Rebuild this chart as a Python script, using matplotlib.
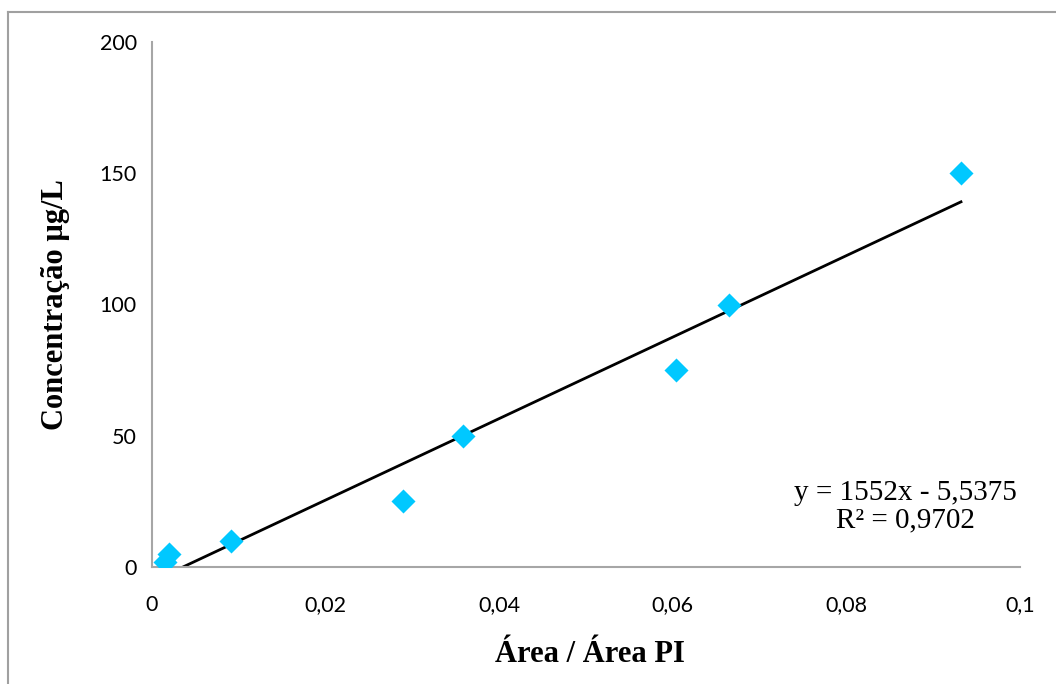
import numpy as np
import matplotlib
matplotlib.use("Agg")
import matplotlib.pyplot as plt
from matplotlib.lines import Line2D

# dados da curva de calibração
area_ratio = [0.0015, 0.0020, 0.0091, 0.0289, 0.0358, 0.0604, 0.0665, 0.0932]
concentracao = [2, 5, 10, 25, 50, 75, 100, 150]
slope = 1552
intercept = -5.5375
r2 = 0.9702

x_ticks = [0, 0.02, 0.04, 0.06, 0.08, 0.1]
x_tick_labels = ['0', '0,02', '0,04', '0,06', '0,08', '0,1']
y_ticks = [0, 50, 100, 150, 200]

fig = plt.figure(figsize=(10.56, 6.84), dpi=100)
ax = fig.add_axes([152/1056, 1-567/684, (1020-152)/1056, (567-42)/684])

ax.scatter(area_ratio, concentracao, marker='D', s=150, color='#00c8ff', zorder=3, linewidths=0)

xl = np.array([min(area_ratio), max(area_ratio)])
ax.plot(xl, slope*xl + intercept, color='black', lw=2, zorder=2)

ax.set_xlim(0, 0.1)
ax.set_ylim(0, 200)
ax.set_xticks(x_ticks)
ax.set_xticklabels(x_tick_labels)
ax.set_yticks(y_ticks)
ax.tick_params(length=0, labelsize=15.5)
ax.tick_params(axis='x', pad=20)
ax.tick_params(axis='y', pad=11)
for lab in ax.get_xticklabels() + ax.get_yticklabels():
    lab.set_fontfamily('Lato')
for s in ['top', 'right']:
    ax.spines[s].set_visible(False)
for s in ['left', 'bottom']:
    ax.spines[s].set_color('#a6a6a6')
    ax.spines[s].set_linewidth(1.5)

ax.set_xlabel('Área / Área PI', fontfamily='Liberation Serif', fontweight='bold', fontsize=22)
ax.xaxis.set_label_coords((590-152)/868, -(655-567)/525)
ax.xaxis.label.set_va('center')
ax.set_ylabel('Concentração µg/L', fontfamily='Liberation Serif', fontweight='bold', fontsize=22)
ax.yaxis.set_label_coords((55-152)/868, (567-305)/525)
ax.yaxis.label.set_va('center')

eq = 'y = %dx - %s\nR² = %s' % (slope, str(-intercept).replace('.', ','), str(r2).replace('.', ','))
fig.text(905/1056, 1-507/684, eq, ha='center', va='center', fontfamily='Liberation Serif',
         fontsize=21, linespacing=1.05)

# moldura
fig.add_artist(Line2D([8/1056, 8/1056], [0, 1-12/684], transform=fig.transFigure, color='#a0a0a0', lw=1.5))
fig.add_artist(Line2D([8/1056, 1], [1-12/684, 1-12/684], transform=fig.transFigure, color='#a0a0a0', lw=1.5))

fig.savefig('out.png', dpi=100)
